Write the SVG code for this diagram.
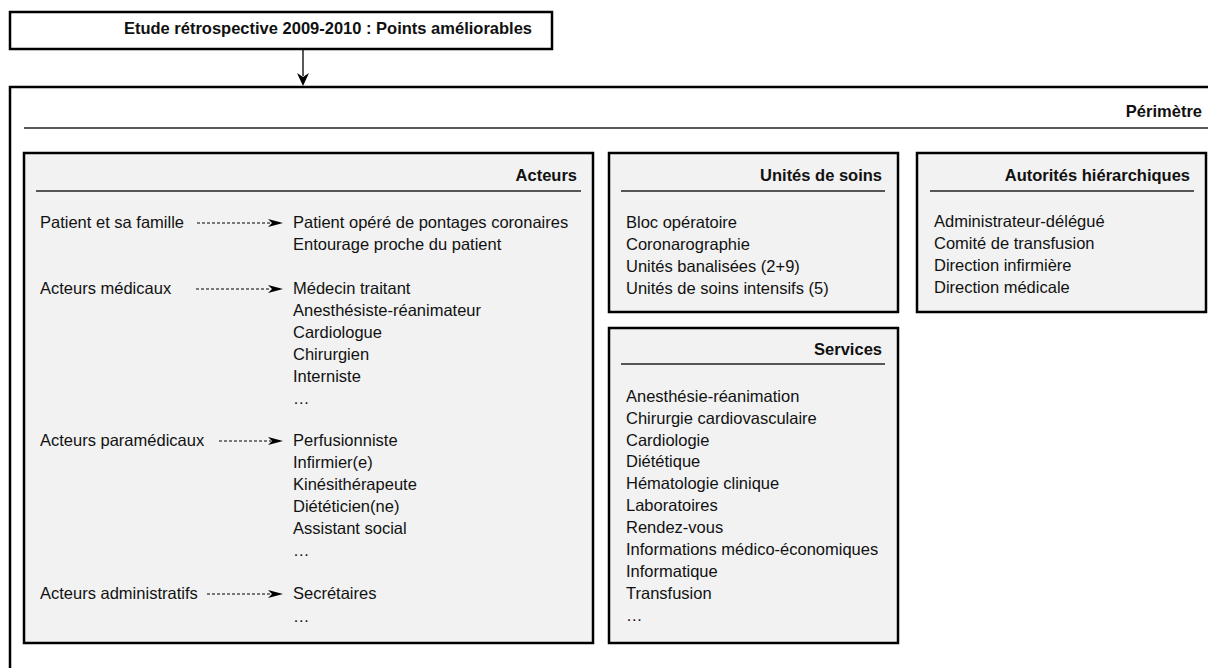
<svg xmlns="http://www.w3.org/2000/svg" width="1208" height="668" viewBox="0 0 1208 668">
<defs>
<style>
.t{font-family:"Liberation Sans",Arial,sans-serif;font-size:16.5px;fill:#111}
.b{font-family:"Liberation Sans",Arial,sans-serif;font-size:16.5px;font-weight:bold;fill:#111}
.box{fill:#f2f2f2;stroke:#000;stroke-width:2.5}
.rule{stroke:#222;stroke-width:1.3}
.dash{stroke:#000;stroke-width:1;stroke-dasharray:3 2;fill:none}
.head{fill:#000}
</style>
</defs>
<rect width="1208" height="668" fill="#fff"/>

<g id="titre">
<rect x="10" y="12" width="542" height="37" fill="#fff" stroke="#000" stroke-width="2.5"/>
<text class="b" x="532" y="34" text-anchor="end">Etude rétrospective 2009-2010 : Points améliorables</text>
</g>

<g id="perimetre">
<path d="M10,680 L10,87 L1220,87" fill="none" stroke="#000" stroke-width="2.5"/>
<line class="rule" x1="24" y1="128" x2="1208" y2="128"/>
<text class="b" x="1202" y="117" text-anchor="end">Périmètre</text>
</g>

<g id="acteurs">
<rect class="box" x="24" y="153" width="569" height="490"/>
<text class="b" x="577" y="181" text-anchor="end">Acteurs</text>
<line class="rule" x1="36" y1="191" x2="581" y2="191"/>
<text class="t" x="40" y="228">Patient et sa famille</text>
<text class="t" x="40" y="294">Acteurs médicaux</text>
<text class="t" x="40" y="446">Acteurs paramédicaux</text>
<text class="t" x="40" y="599">Acteurs administratifs</text>
<text class="t" x="293" y="228">Patient opéré de pontages coronaires</text>
<text class="t" x="293" y="250">Entourage proche du patient</text>
<text class="t" x="293" y="294">Médecin traitant</text>
<text class="t" x="293" y="316">Anesthésiste-réanimateur</text>
<text class="t" x="293" y="338">Cardiologue</text>
<text class="t" x="293" y="360">Chirurgien</text>
<text class="t" x="293" y="382">Interniste</text>
<text class="t" x="293" y="404">…</text>
<text class="t" x="293" y="446">Perfusionniste</text>
<text class="t" x="293" y="468">Infirmier(e)</text>
<text class="t" x="293" y="490">Kinésithérapeute</text>
<text class="t" x="293" y="512">Diététicien(ne)</text>
<text class="t" x="293" y="534">Assistant social</text>
<text class="t" x="293" y="556">…</text>
<text class="t" x="293" y="599">Secrétaires</text>
<text class="t" x="293" y="622">…</text>
</g>

<g id="unites">
<rect class="box" x="609" y="153" width="289" height="159"/>
<text class="b" x="882" y="181" text-anchor="end">Unités de soins</text>
<line class="rule" x1="621" y1="191" x2="885" y2="191"/>
<text class="t" x="626" y="228">Bloc opératoire</text>
<text class="t" x="626" y="250">Coronarographie</text>
<text class="t" x="626" y="272">Unités banalisées (2+9)</text>
<text class="t" x="626" y="294">Unités de soins intensifs (5)</text>
</g>

<g id="autorites">
<rect class="box" x="917" y="153" width="289" height="159"/>
<text class="b" x="1190" y="181" text-anchor="end">Autorités hiérarchiques</text>
<line class="rule" x1="930" y1="191" x2="1194" y2="191"/>
<text class="t" x="934" y="227">Administrateur-délégué</text>
<text class="t" x="934" y="249">Comité de transfusion</text>
<text class="t" x="934" y="271">Direction infirmière</text>
<text class="t" x="934" y="293">Direction médicale</text>
</g>

<g id="services">
<rect class="box" x="609" y="328" width="289" height="315"/>
<text class="b" x="882" y="355" text-anchor="end">Services</text>
<line class="rule" x1="621" y1="364" x2="885" y2="364"/>
<text class="t" x="626" y="402">Anesthésie-réanimation</text>
<text class="t" x="626" y="424">Chirurgie cardiovasculaire</text>
<text class="t" x="626" y="446">Cardiologie</text>
<text class="t" x="626" y="467">Diététique</text>
<text class="t" x="626" y="489">Hématologie clinique</text>
<text class="t" x="626" y="511">Laboratoires</text>
<text class="t" x="626" y="533">Rendez-vous</text>
<text class="t" x="626" y="555">Informations médico-économiques</text>
<text class="t" x="626" y="577">Informatique</text>
<text class="t" x="626" y="599">Transfusion</text>
<text class="t" x="626" y="621">…</text>
</g>

<g id="connecteurs">
<line x1="303" y1="49" x2="303" y2="76" stroke="#000" stroke-width="1.3"/>
<path class="head" d="M297,73 L303,86 L309,73 L303,77 Z"/>
<line class="dash" x1="197" y1="223" x2="271" y2="223"/>
<path class="head" d="M268,219 L283,223 L268,227 L272,223 Z"/>
<line class="dash" x1="196" y1="289" x2="271" y2="289"/>
<path class="head" d="M268,285 L283,289 L268,293 L272,289 Z"/>
<line class="dash" x1="219" y1="441" x2="271" y2="441"/>
<path class="head" d="M268,437 L283,441 L268,445 L272,441 Z"/>
<line class="dash" x1="207" y1="594" x2="271" y2="594"/>
<path class="head" d="M268,590 L283,594 L268,598 L272,594 Z"/>
</g>
</svg>
